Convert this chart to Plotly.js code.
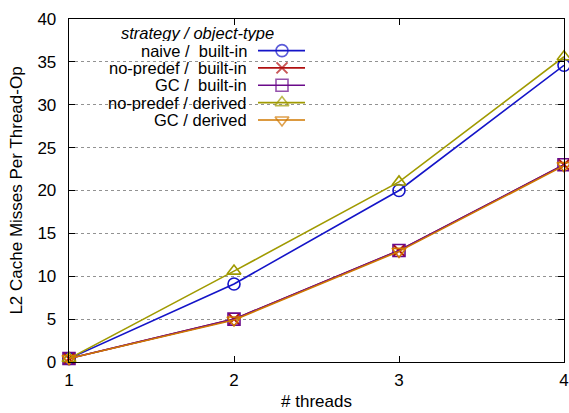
<!DOCTYPE html>
<html><head><meta charset="utf-8">
<script src="https://cdn.plot.ly/plotly-3.0.1.min.js"></script>
<style>body{margin:0;background:#fff}#c{width:569px;height:413px}</style>
</head><body><div id="c"></div>
<script>
const threads = [1, 2, 3, 4];
const naiveBuiltin = [0.4, 9.1, 20.0, 34.6];
const nopredefBuiltin = [0.4, 5.0, 13.0, 23.0];
const gcBuiltin = [0.4, 5.0, 13.0, 23.0];
const nopredefDerived = [0.4, 10.6, 21.0, 35.6];
const gcDerived = [0.4, 4.9, 12.9, 22.9];
const seriesNames = ['naive /\u00A0 built-in', 'no-predef /\u00A0 built-in', 'GC /\u00A0 built-in', 'no-predef / derived', 'GC / derived'];
const legendTitle = 'strategy / object-type';

const colors = ['#1414c8', '#b01010', '#6a0a8a', '#a09a00', '#d07800'];
const symbols = ['circle-open', 'x-thin-open', 'square-open', 'triangle-up-open', 'triangle-down-open'];
const sizes = [12, 11, 12, 12, 12];
const data = [naiveBuiltin, nopredefBuiltin, gcBuiltin, nopredefDerived, gcDerived];

const L = 69, R = 564, T = 19, B = 362;
const px = v => (v - L) / (R - L);
const py = v => (B - v) / (B - T);
const FS = 17;
const LFS = 16.5;

const traces = data.map((ys, i) => ({
  x: threads, y: ys, type: 'scatter', mode: 'lines+markers', cliponaxis: false,
  line: {color: colors[i], width: 1.6},
  marker: {symbol: symbols[i], size: sizes[i], color: colors[i], line: {color: colors[i], width: i === 1 ? 2 : 1.6}},
  showlegend: false, hoverinfo: 'skip'
}));

const rowY = [50.6, 67.9, 85.2, 102.6, 120];
const annotations = [{
  xref: 'paper', yref: 'paper', x: px(197), y: py(33), xanchor: 'center', yanchor: 'middle', height: 16,
  text: '<i>' + legendTitle + '</i>', showarrow: false, font: {size: LFS, color: '#000'}
}];
seriesNames.forEach((n, i) => {
  annotations.push({xref: 'paper', yref: 'paper', x: px(249), y: py(rowY[i]), xanchor: 'right', yanchor: 'middle',
    height: 16, text: n, showarrow: false, font: {size: LFS, color: '#000'}});
  traces.push({
    x: [px(258), px(282), px(305)], y: [py(rowY[i]), py(rowY[i]), py(rowY[i])],
    xaxis: 'x2', yaxis: 'y2', type: 'scatter', mode: 'lines+markers', cliponaxis: false,
    line: {color: colors[i], width: 1.6},
    marker: {symbol: symbols[i], size: [0, sizes[i], 0], color: colors[i], line: {color: colors[i], width: i === 1 ? 2 : 1.6}},
    showlegend: false, hoverinfo: 'skip'
  });
});

const layout = {
  width: 569, height: 413,
  margin: {l: L, r: 569 - R, t: T, b: 413 - B},
  paper_bgcolor: '#fff', plot_bgcolor: '#fff',
  font: {family: 'Liberation Sans, Arial, sans-serif', size: FS, color: '#000'},
  showlegend: false,
  xaxis: {range: [1, 4], tickvals: threads, ticks: 'inside', ticklen: 6, tickcolor: '#000',
    showline: true, linecolor: '#000', linewidth: 1.3, mirror: 'ticks', showgrid: false, zeroline: false,
    ticklabelstandoff: 2,
    title: {text: '# threads', font: {size: FS}, standoff: 6}},
  yaxis: {range: [0, 40], dtick: 5, ticks: 'inside', ticklen: 6, tickcolor: '#000',
    showline: true, linecolor: '#000', linewidth: 1.3, mirror: 'ticks', zeroline: false,
    showgrid: true, gridcolor: '#777', griddash: 'dot', gridwidth: 0.8,
    ticklabelstandoff: 8,
    title: {text: 'L2 Cache Misses Per Thread-Op', font: {size: FS}, standoff: 10}},
  xaxis2: {overlaying: 'x', range: [0, 1], visible: false},
  yaxis2: {overlaying: 'y', range: [0, 1], visible: false},
  shapes: [{type: 'rect', xref: 'paper', yref: 'paper', x0: 0.003, x1: px(315), y0: py(130), y1: 0.997,
    fillcolor: '#fff', line: {width: 0}, layer: 'between'}],
  annotations: annotations
};
Plotly.newPlot('c', traces, layout, {staticPlot: true});
</script></body></html>
